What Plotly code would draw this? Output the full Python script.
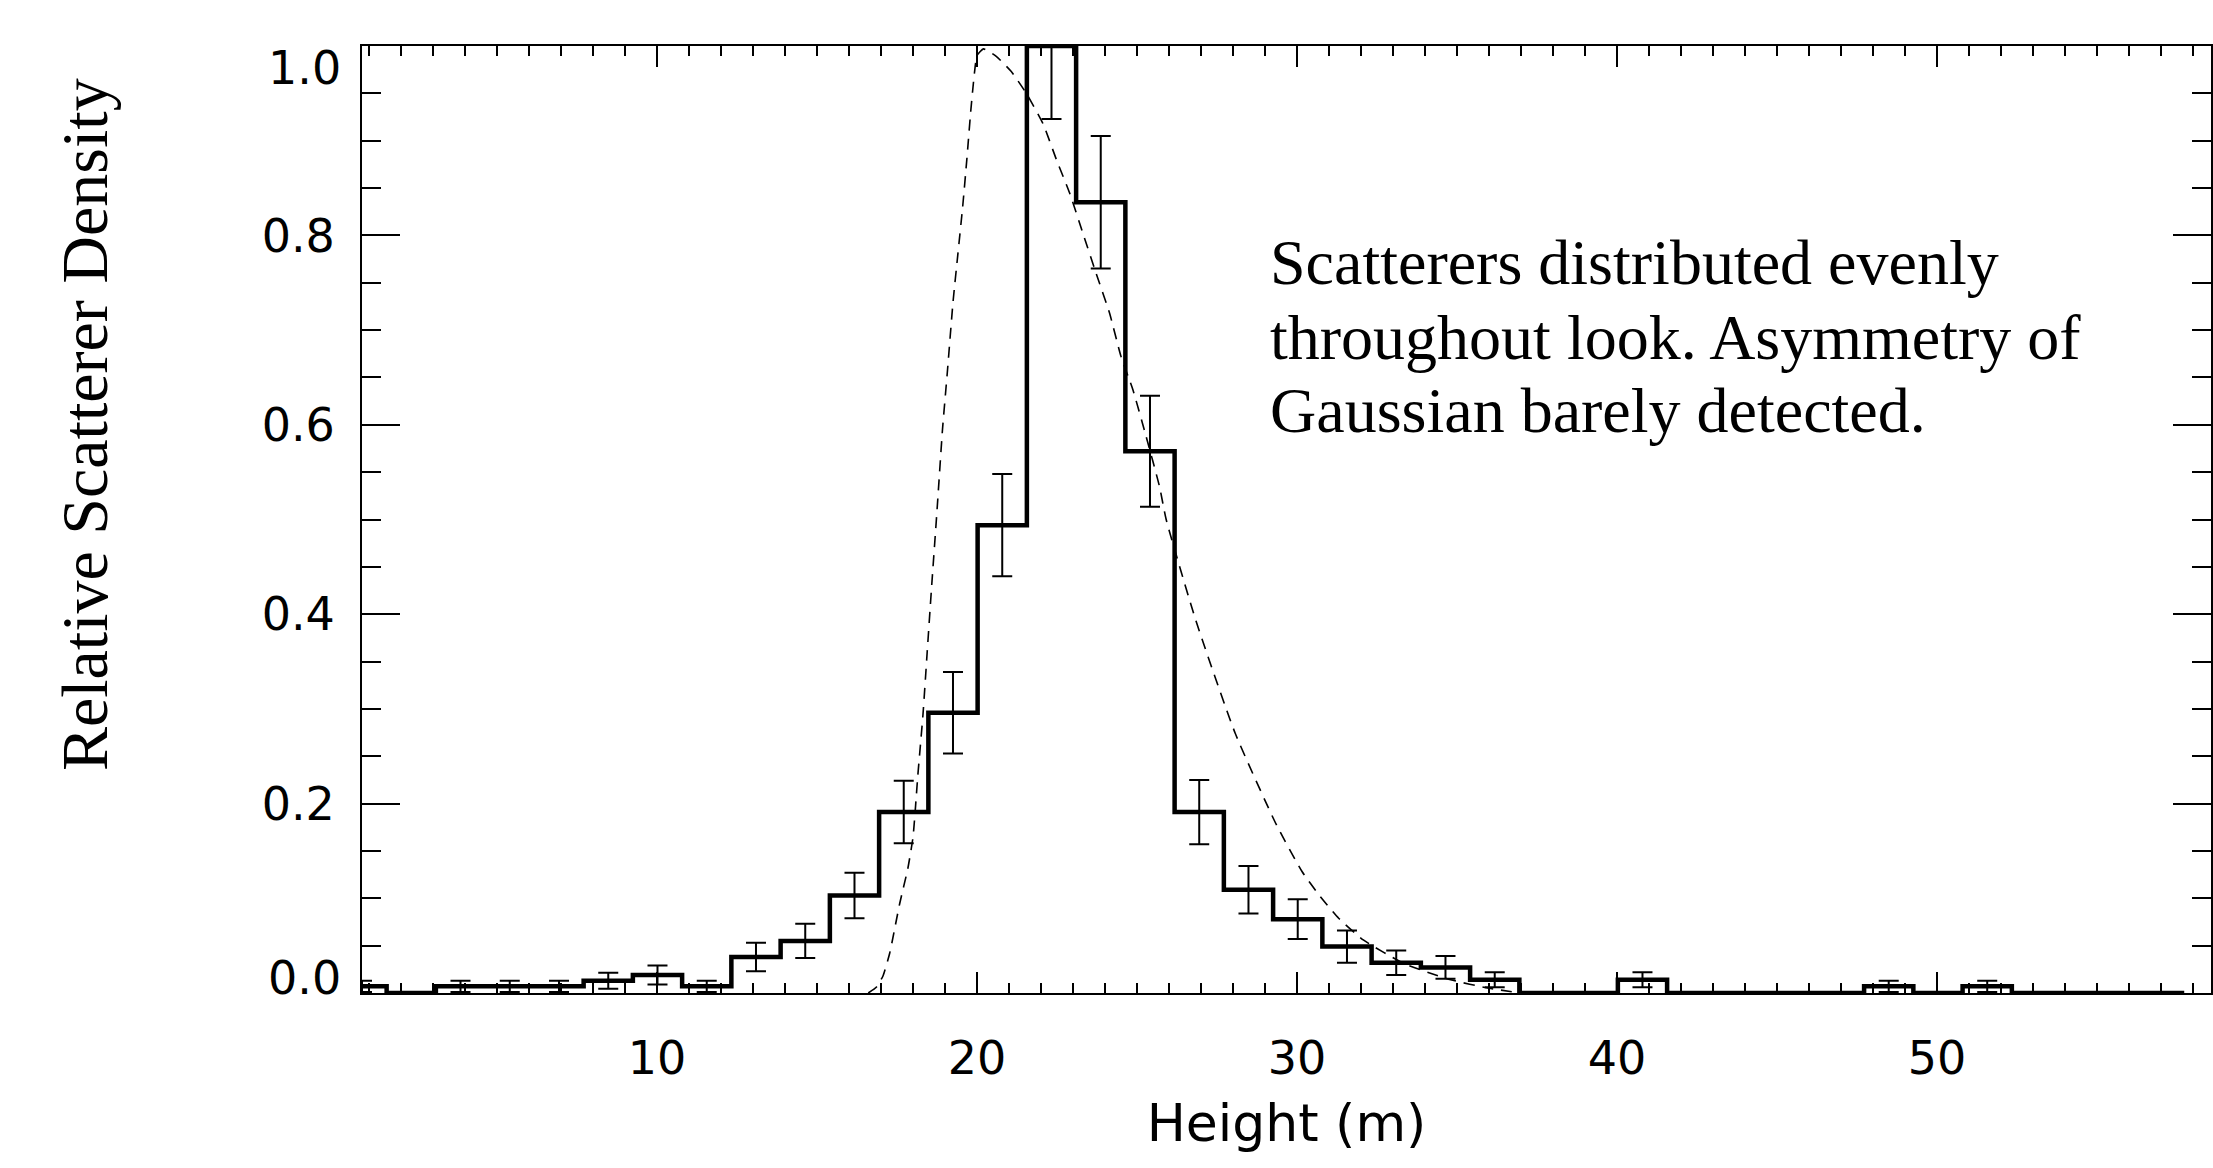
import plotly.graph_objects as go

# ---------------- data ----------------
bin_width = 1.539
first_center = 0.78
hist_values = [0.007, 0.0, 0.007, 0.007, 0.007, 0.013, 0.019, 0.007, 0.038, 0.055,
               0.103, 0.191, 0.296, 0.494, 1.0, 0.835, 0.572, 0.191, 0.109, 0.078,
               0.049, 0.032, 0.027, 0.014, 0.0, 0.0, 0.014, 0.0, 0.0, 0.0,
               0.0, 0.007, 0.0, 0.007, 0.0, 0.0, 0.0, 0.0]
hist_errors = [0.006, 0.0, 0.006, 0.006, 0.006, 0.0084, 0.010, 0.006, 0.015, 0.018,
               0.024, 0.033, 0.043, 0.054, 0.077, 0.070, 0.0586, 0.034, 0.025, 0.021,
               0.017, 0.013, 0.012, 0.008, 0.0, 0.0, 0.008, 0.0, 0.0, 0.0,
               0.0, 0.006, 0.0, 0.006, 0.0, 0.0, 0.0, 0.0]
bin_centers = [first_center + bin_width * k for k in range(len(hist_values))]

gauss_x = [16.6, 16.85, 17.06, 17.27, 17.58, 17.84, 18.0, 18.15, 18.31, 18.44, 18.57,
           18.75, 18.92, 19.07, 19.25, 19.40, 19.55, 19.68, 19.80, 19.92, 20.0, 20.2,
           20.6, 21.07, 21.54, 22.06, 22.48, 22.89, 23.31, 23.72, 24.14, 24.5, 24.87,
           25.28, 25.70, 25.91, 26.84, 28.07, 29.35, 30.16, 30.7, 31.3, 32.07, 33.35,
           34.8, 36.0, 37.0]
gauss_y = [0.0, 0.006, 0.018, 0.042, 0.094, 0.132, 0.165, 0.23, 0.294, 0.359, 0.424,
           0.51, 0.595, 0.655, 0.73, 0.78, 0.83, 0.88, 0.93, 0.972, 0.99, 0.997,
           0.989, 0.973, 0.950, 0.918, 0.880, 0.845, 0.802, 0.760, 0.718, 0.672, 0.637,
           0.588, 0.535, 0.500, 0.393, 0.274, 0.178, 0.128, 0.103, 0.079, 0.056, 0.031,
           0.014, 0.005, 0.0]

x_tick_vals = [10, 20, 30, 40, 50]
y_tick_vals = [0.0, 0.2, 0.4, 0.6, 0.8, 1.0]
y_tick_text = ["0.0", "0.2", "0.4", "0.6", "0.8", "1.0"]

x_title = "Height (m)"
y_title = "Relative Scatterer Density"
note_lines = ["Scatterers distributed evenly",
              "throughout look. Asymmetry of",
              "Gaussian barely detected."]

# ---------------- figure ----------------
W, H = 2213, 1168
fig = go.Figure()

# error bars (no line)
err_x = [c for c, e in zip(bin_centers, hist_errors) if e > 0]
err_y = [v for v, e in zip(hist_values, hist_errors) if e > 0]
err_e = [e for e in hist_errors if e > 0]
fig.add_trace(go.Scatter(
    x=err_x, y=err_y, mode="markers",
    marker=dict(size=1, color="rgba(0,0,0,0)"),
    error_y=dict(type="data", array=err_e, visible=True, color="black",
                 thickness=2, width=10),
    showlegend=False, hoverinfo="skip"))

# histogram (IDL psym=10 style)
fig.add_trace(go.Scatter(
    x=bin_centers, y=hist_values, mode="lines",
    line=dict(color="black", width=4.5, shape="hvh"),
    showlegend=False))

# dashed fit
fig.add_trace(go.Scatter(
    x=gauss_x, y=gauss_y, mode="lines",
    line=dict(color="black", width=1.6, dash="11px,8px", shape="spline", smoothing=0.5),
    showlegend=False))

tick_font = dict(family="DejaVu Sans", size=46, color="black")

# the end labels (0.0 and 1.0) sit inside the frame in the reference
inner_text = [t if 0 < v < 1 else "" for v, t in zip(y_tick_vals, y_tick_text)]

fig.update_xaxes(
    range=[0.78, 58.56], showline=True, linecolor="black", linewidth=2,
    mirror="ticks", ticks="inside", ticklen=21, tickwidth=2, tickcolor="black",
    tickvals=x_tick_vals, ticktext=[str(v) for v in x_tick_vals],
    tickfont=tick_font, ticklabelstandoff=24,
    minor=dict(ticks="inside", ticklen=10, tickwidth=2, tickcolor="black", dtick=1, tick0=0),
    showgrid=False, zeroline=False,
    title=dict(text=x_title, font=dict(family="DejaVu Sans", size=52, color="black"), standoff=20),
)
fig.update_yaxes(
    range=[0, 1.0], showline=True, linecolor="black", linewidth=2,
    mirror="ticks", ticks="inside", ticklen=38, tickwidth=2, tickcolor="black",
    tickvals=y_tick_vals, ticktext=inner_text,
    tickfont=tick_font, ticklabelstandoff=16,
    minor=dict(ticks="inside", ticklen=19, tickwidth=2, tickcolor="black", dtick=0.05, tick0=0),
    showgrid=False, zeroline=False,
)

end_label_pos = {0.0: 0.016, 1.0: 0.977}
for v, t in zip(y_tick_vals, y_tick_text):
    if v in end_label_pos:
        fig.add_annotation(
            text=t, xref="paper", yref="paper", x=(343 - 362) / 1851, y=end_label_pos[v],
            xanchor="right", yanchor="middle", showarrow=False, font=tick_font)

# rotated y title (serif, like the reference)
fig.add_annotation(
    text=y_title, xref="paper", yref="paper", x=(85 - 362) / 1851, y=0.60,
    xanchor="center", yanchor="middle", textangle=-90, showarrow=False,
    font=dict(family="Liberation Serif", size=66, color="black"))

note_y = [0.771, 0.692, 0.615]
for line, yy in zip(note_lines, note_y):
    fig.add_annotation(
        text=line, xref="x", yref="y", x=29.10, y=yy,
        xanchor="left", yanchor="middle", showarrow=False,
        font=dict(family="Liberation Serif", size=64, color="black"))

fig.update_layout(
    width=W, height=H,
    margin=dict(l=362, r=0, t=46, b=175, pad=0),
    paper_bgcolor="white", plot_bgcolor="white",
)

fig.write_html("out.html")
